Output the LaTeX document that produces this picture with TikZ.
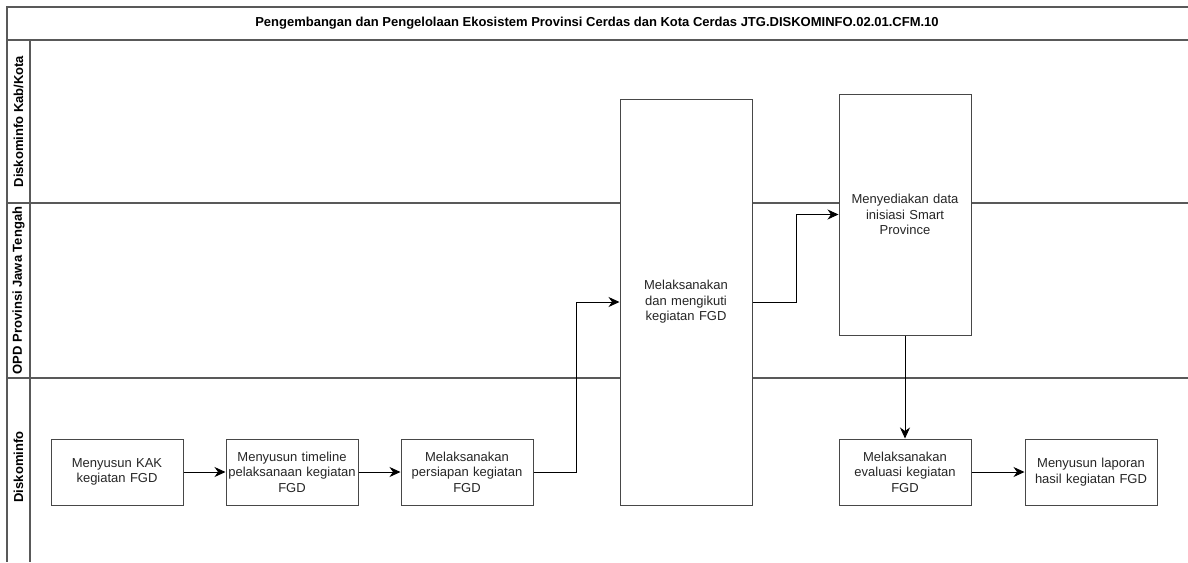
\documentclass[tikz,border=0pt]{standalone}
\usepackage{fontspec}
\setmainfont{Liberation Sans}
\usetikzlibrary{arrows.meta}

\begin{document}
\begin{tikzpicture}[x=1pt, y=-1pt, font=\fontsize{13}{15.5}\selectfont]
%% one unit is one pixel of the drawing, y grows downwards
%% lanes: Diskominfo Kab/Kota, OPD Provinsi Jawa Tengah, Diskominfo
\tikzstyle{arc}=[-{Stealth[length=11pt,width=10pt,inset=3.5pt]},line width=1pt,black]
\tikzstyle{lane}=[line width=1.2pt,draw=black!65]
\tikzstyle{activity}=[draw=black!72,line width=1pt,fill=white,text width=132pt,minimum height=66pt,align=center,inner sep=0pt,text=black!85]
\tikzstyle{lanelabel}=[rotate=90,font=\fontsize{13}{15.5}\selectfont\bfseries]
\useasboundingbox (0,0) rectangle (1188,562);
%% pool frame %%
\draw[lane] (1188,7) -- (7,7) -- (7,562);
\draw[lane] (7,40) -- (1188,40);
\draw[lane] (30,40) -- (30,562);
\draw[lane] (7,203) -- (1188,203);
\draw[lane] (7,378) -- (1188,378);
%% title of the pool
\node[font=\fontsize{13}{15.5}\selectfont\bfseries] at (597,23.5) (Title) {Pengembangan dan Pengelolaan Ekosistem Provinsi Cerdas dan Kota Cerdas JTG.DISKOMINFO.02.01.CFM.10};
%% lane labels
\node[lanelabel] at (18.5,121.5) (Lane_KabKota) {Diskominfo Kab/Kota};
\node[lanelabel] at (18.5,290.5) (Lane_OPD) {OPD Provinsi Jawa Tengah};
\node[lanelabel] at (18.5,467) (Lane_Diskominfo) {Diskominfo};
%% activities %%
\node[activity] at (117,472) (Menyusun_KAK) {Menyusun KAK\\kegiatan FGD};
\node[activity] at (292,472) (Menyusun_Timeline) {Menyusun timeline\\pelaksanaan kegiatan\\FGD};
\node[activity] at (467,472) (Persiapan_FGD) {Melaksanakan\\persiapan kegiatan\\FGD};
\node[activity,minimum height=406pt] at (686,302) (Kegiatan_FGD) {Melaksanakan\\dan mengikuti\\kegiatan FGD};
\node[activity,minimum height=241pt] at (905,214.5) (Data_Smart) {Menyediakan data\\inisiasi Smart\\Province};
\node[activity] at (905,472) (Evaluasi_FGD) {Melaksanakan\\evaluasi kegiatan\\FGD};
\node[activity] at (1091,472) (Laporan_FGD) {Menyusun laporan\\hasil kegiatan FGD};
%% arcs %%
\draw[arc] (Menyusun_KAK) -- (Menyusun_Timeline);
\draw[arc] (Menyusun_Timeline) -- (Persiapan_FGD);
\draw[arc] (Persiapan_FGD.east) -- ++(43,0) |- (Kegiatan_FGD.west);
\draw[arc] (Kegiatan_FGD.east) -- ++(44,0) |- (Data_Smart.west);
\draw[arc] (Data_Smart) -- (Evaluasi_FGD);
\draw[arc] (Evaluasi_FGD) -- (Laporan_FGD);
\end{tikzpicture}
\end{document}
